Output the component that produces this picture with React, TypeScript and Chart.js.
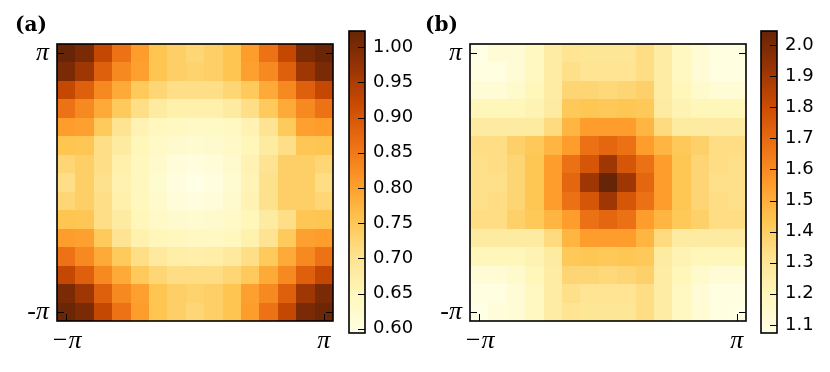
import React, { useEffect, useRef } from "react";
import { Chart, registerables } from "chart.js";

Chart.register(...registerables);

const PI = Math.PI;
const gridSize = 15;
const axisTickValues = [-PI, PI];
const xTickLabels = ["−π", "π"];
const yTickLabels = ["-π", "π"];
const panelLabels = ["(a)", "(b)"];

// Panel (a): rows from top (y = π) to bottom (y = −π), columns from x = −π to π
const gridA: number[][] = [
  [1.023, 1.002, 0.924, 0.86, 0.804, 0.753, 0.736, 0.723, 0.736, 0.753, 0.804, 0.86, 0.924, 1.002, 1.02],
  [1.002, 0.963, 0.886, 0.83, 0.8, 0.753, 0.736, 0.731, 0.736, 0.753, 0.8, 0.83, 0.886, 0.963, 1.002],
  [0.924, 0.886, 0.83, 0.787, 0.744, 0.723, 0.71, 0.71, 0.71, 0.723, 0.744, 0.787, 0.83, 0.886, 0.924],
  [0.86, 0.83, 0.787, 0.744, 0.71, 0.68, 0.667, 0.667, 0.667, 0.68, 0.71, 0.744, 0.787, 0.83, 0.86],
  [0.804, 0.8, 0.744, 0.7, 0.66, 0.645, 0.643, 0.636, 0.636, 0.643, 0.66, 0.7, 0.744, 0.8, 0.804],
  [0.753, 0.75, 0.71, 0.68, 0.65, 0.633, 0.625, 0.62, 0.625, 0.633, 0.65, 0.68, 0.71, 0.75, 0.753],
  [0.723, 0.736, 0.71, 0.667, 0.645, 0.627, 0.61, 0.607, 0.612, 0.625, 0.66, 0.7, 0.736, 0.736, 0.723],
  [0.71, 0.736, 0.705, 0.662, 0.645, 0.622, 0.605, 0.594, 0.605, 0.62, 0.655, 0.705, 0.736, 0.736, 0.712],
  [0.723, 0.736, 0.71, 0.667, 0.645, 0.627, 0.61, 0.605, 0.61, 0.625, 0.66, 0.705, 0.736, 0.736, 0.723],
  [0.753, 0.75, 0.71, 0.68, 0.65, 0.633, 0.625, 0.62, 0.625, 0.633, 0.65, 0.68, 0.71, 0.75, 0.753],
  [0.804, 0.8, 0.744, 0.7, 0.665, 0.65, 0.645, 0.64, 0.64, 0.645, 0.665, 0.7, 0.744, 0.8, 0.804],
  [0.86, 0.83, 0.787, 0.744, 0.71, 0.685, 0.672, 0.67, 0.672, 0.685, 0.71, 0.744, 0.787, 0.83, 0.86],
  [0.924, 0.886, 0.83, 0.787, 0.744, 0.723, 0.712, 0.712, 0.712, 0.723, 0.744, 0.787, 0.83, 0.886, 0.924],
  [1.002, 0.963, 0.886, 0.83, 0.8, 0.753, 0.736, 0.731, 0.736, 0.753, 0.8, 0.83, 0.886, 0.963, 1.002],
  [1.018, 1.002, 0.924, 0.86, 0.804, 0.753, 0.736, 0.723, 0.736, 0.753, 0.804, 0.86, 0.924, 1.002, 1.016],
];

// Panel (b)
const gridB: number[][] = [
  [1.075, 1.12, 1.12, 1.18, 1.26, 1.31, 1.3, 1.3, 1.3, 1.34, 1.26, 1.18, 1.13, 1.09, 1.09],
  [1.09, 1.09, 1.12, 1.18, 1.26, 1.33, 1.31, 1.31, 1.31, 1.34, 1.26, 1.18, 1.12, 1.09, 1.09],
  [1.12, 1.12, 1.15, 1.2, 1.26, 1.37, 1.37, 1.36, 1.37, 1.39, 1.26, 1.2, 1.15, 1.12, 1.12],
  [1.2, 1.2, 1.2, 1.22, 1.27, 1.42, 1.43, 1.42, 1.43, 1.42, 1.27, 1.22, 1.2, 1.2, 1.2],
  [1.27, 1.27, 1.27, 1.27, 1.35, 1.48, 1.55, 1.55, 1.55, 1.48, 1.35, 1.27, 1.27, 1.27, 1.27],
  [1.34, 1.34, 1.39, 1.42, 1.48, 1.55, 1.68, 1.71, 1.68, 1.55, 1.48, 1.42, 1.39, 1.34, 1.34],
  [1.33, 1.34, 1.37, 1.43, 1.55, 1.68, 1.77, 1.91, 1.77, 1.68, 1.55, 1.43, 1.37, 1.34, 1.33],
  [1.33, 1.33, 1.37, 1.43, 1.55, 1.71, 1.91, 2.045, 1.91, 1.71, 1.55, 1.43, 1.37, 1.33, 1.33],
  [1.33, 1.34, 1.37, 1.43, 1.55, 1.68, 1.77, 1.91, 1.77, 1.68, 1.55, 1.43, 1.37, 1.34, 1.33],
  [1.34, 1.34, 1.39, 1.42, 1.48, 1.55, 1.68, 1.71, 1.68, 1.55, 1.48, 1.42, 1.39, 1.34, 1.34],
  [1.27, 1.27, 1.27, 1.27, 1.35, 1.48, 1.55, 1.55, 1.55, 1.48, 1.35, 1.27, 1.27, 1.27, 1.27],
  [1.2, 1.2, 1.2, 1.22, 1.27, 1.42, 1.43, 1.42, 1.43, 1.42, 1.27, 1.22, 1.2, 1.2, 1.2],
  [1.12, 1.12, 1.15, 1.2, 1.26, 1.37, 1.37, 1.36, 1.37, 1.39, 1.26, 1.2, 1.15, 1.12, 1.12],
  [1.09, 1.09, 1.12, 1.18, 1.26, 1.33, 1.31, 1.31, 1.31, 1.34, 1.26, 1.18, 1.12, 1.09, 1.09],
  [1.074, 1.11, 1.12, 1.18, 1.26, 1.31, 1.3, 1.3, 1.3, 1.34, 1.26, 1.18, 1.13, 1.09, 1.08],
];

const colorbarTicksA = [0.6, 0.65, 0.7, 0.75, 0.8, 0.85, 0.9, 0.95, 1.0];
const colorbarTicksB = [1.1, 1.2, 1.3, 1.4, 1.5, 1.6, 1.7, 1.8, 1.9, 2.0];

// YlOrBr colormap anchors
const YLORBR = [
  [255, 255, 229],
  [255, 247, 188],
  [254, 227, 145],
  [254, 196, 79],
  [254, 153, 41],
  [236, 112, 20],
  [204, 76, 2],
  [153, 52, 4],
  [102, 37, 6],
];

function cmap(t: number): string {
  const tt = Math.max(0, Math.min(1, t)) * (YLORBR.length - 1);
  const i = Math.min(YLORBR.length - 2, Math.floor(tt));
  const f = tt - i;
  const a = YLORBR[i];
  const b = YLORBR[i + 1];
  const c = a.map((v, k) => Math.round(v + (b[k] - v) * f));
  return `rgb(${c[0]},${c[1]},${c[2]})`;
}

function range(grid: number[][]) {
  const flat = grid.flat();
  return { vmin: Math.min(...flat), vmax: Math.max(...flat) };
}

const piFont = { family: "'Liberation Serif', serif", size: 26, style: "italic" as const };
const cbFont = { family: "'DejaVu Sans', sans-serif", size: 18 };

function Heatmap({ grid, left }: { grid: number[][]; left: number }) {
  const ref = useRef<HTMLCanvasElement>(null);
  useEffect(() => {
    const step = (2 * PI) / (gridSize - 1);
    const { vmin, vmax } = range(grid);
    const data: { x: number; y: number; v: number }[] = [];
    grid.forEach((row, r) =>
      row.forEach((v, c) => data.push({ x: -PI + c * step, y: PI - r * step, v }))
    );
    const heatPlugin = {
      id: "heat",
      beforeDatasetsDraw(chart: any) {
        const { ctx, scales } = chart;
        const xs = scales.x;
        const ys = scales.y;
        const pts = chart.data.datasets[0].data;
        ctx.save();
        for (const p of pts) {
          const x0 = Math.round(xs.getPixelForValue(p.x - step / 2));
          const x1 = Math.round(xs.getPixelForValue(p.x + step / 2));
          const y0 = Math.round(ys.getPixelForValue(p.y + step / 2));
          const y1 = Math.round(ys.getPixelForValue(p.y - step / 2));
          ctx.fillStyle = cmap((p.v - vmin) / (vmax - vmin));
          ctx.fillRect(x0, y0, x1 - x0, y1 - y0);
        }
        ctx.restore();
      },
      afterDraw(chart: any) {
        const { ctx, chartArea: a, scales } = chart;
        ctx.save();
        ctx.strokeStyle = "#000";
        ctx.lineWidth = 1.6;
        ctx.strokeRect(a.left, a.top, a.right - a.left, a.bottom - a.top);
        ctx.lineWidth = 1;
        const L = 7;
        ctx.beginPath();
        for (const t of axisTickValues) {
          const py = Math.round(scales.y.getPixelForValue(t)) + 0.5;
          ctx.moveTo(a.left, py);
          ctx.lineTo(a.left + L, py);
          ctx.moveTo(a.right, py);
          ctx.lineTo(a.right - L, py);
          const px = Math.round(scales.x.getPixelForValue(t)) + 0.5;
          ctx.moveTo(px, a.bottom);
          ctx.lineTo(px, a.bottom - L);
        }
        ctx.stroke();
        ctx.restore();
      },
    };
    const chart = new Chart(ref.current as HTMLCanvasElement, {
      type: "scatter",
      data: { datasets: [{ data, pointRadius: 0, pointHoverRadius: 0 }] as any },
      options: {
        animation: false,
        responsive: false,
        events: [],
        layout: { padding: { top: 44, right: 12, left: 0, bottom: 0 } },
        plugins: { legend: { display: false }, tooltip: { enabled: false } },
        scales: {
          x: {
            type: "linear",
            min: -PI - step / 2,
            max: PI + step / 2,
            grid: { display: false, drawTicks: false },
            border: { display: false },
            afterBuildTicks: (s: any) => {
              s.ticks = axisTickValues.map((value) => ({ value }));
            },
            afterFit: (s: any) => {
              s.height = 51;
            },
            ticks: {
              callback: (_v: any, i: number) => xTickLabels[i],
              font: piFont,
              color: "#000",
              padding: 5,
              maxRotation: 0,
              autoSkip: false,
            },
          },
          y: {
            type: "linear",
            min: -PI - step / 2,
            max: PI + step / 2,
            grid: { display: false, drawTicks: false },
            border: { display: false },
            afterBuildTicks: (s: any) => {
              s.ticks = axisTickValues.map((value) => ({ value }));
            },
            afterFit: (s: any) => {
              s.width = 57;
            },
            ticks: {
              callback: (_v: any, i: number) => yTickLabels[i],
              font: piFont,
              color: "#000",
              padding: 8,
              autoSkip: false,
            },
          },
        },
      } as any,
      plugins: [heatPlugin],
    });
    return () => chart.destroy();
  }, [grid]);
  return (
    <canvas
      ref={ref}
      width={345}
      height={372}
      style={{ position: "absolute", left, top: 0, width: 345, height: 372 }}
    />
  );
}

function Colorbar({
  grid,
  ticks,
  decimals,
  left,
}: {
  grid: number[][];
  ticks: number[];
  decimals: number;
  left: number;
}) {
  const ref = useRef<HTMLCanvasElement>(null);
  useEffect(() => {
    const { vmin, vmax } = range(grid);
    const cbPlugin = {
      id: "cb",
      beforeDatasetsDraw(chart: any) {
        const { ctx, chartArea: a, scales } = chart;
        ctx.save();
        for (let py = Math.floor(a.top); py < Math.ceil(a.bottom); py++) {
          const v = scales.y.getValueForPixel(py + 0.5);
          ctx.fillStyle = cmap((v - vmin) / (vmax - vmin));
          ctx.fillRect(a.left, py, a.right - a.left, 1);
        }
        ctx.restore();
      },
      afterDraw(chart: any) {
        const { ctx, chartArea: a, scales } = chart;
        ctx.save();
        ctx.strokeStyle = "#000";
        ctx.lineWidth = 1.6;
        ctx.strokeRect(a.left, a.top, a.right - a.left, a.bottom - a.top);
        ctx.lineWidth = 1;
        ctx.beginPath();
        for (const t of ticks) {
          const py = Math.round(scales.y.getPixelForValue(t)) + 0.5;
          ctx.moveTo(a.right, py);
          ctx.lineTo(a.right - 7, py);
        }
        ctx.stroke();
        ctx.restore();
      },
    };
    const chart = new Chart(ref.current as HTMLCanvasElement, {
      type: "scatter",
      data: { datasets: [{ data: [], pointRadius: 0 }] as any },
      options: {
        animation: false,
        responsive: false,
        events: [],
        layout: { padding: { top: 31, right: 0, left: 9, bottom: 39 } },
        plugins: { legend: { display: false }, tooltip: { enabled: false } },
        scales: {
          x: { type: "linear", display: false, min: 0, max: 1 },
          y: {
            type: "linear",
            position: "right",
            min: vmin,
            max: vmax,
            grid: { display: false, drawTicks: false },
            border: { display: false },
            afterBuildTicks: (s: any) => {
              s.ticks = ticks.map((value) => ({ value }));
            },
            afterFit: (s: any) => {
              s.width = 50;
            },
            ticks: {
              callback: (v: any) => Number(v).toFixed(decimals),
              font: cbFont,
              color: "#000",
              padding: 8,
              autoSkip: false,
            },
          },
        },
      } as any,
      plugins: [cbPlugin],
    });
    return () => chart.destroy();
  }, [grid]);
  return (
    <canvas
      ref={ref}
      width={75}
      height={372}
      style={{ position: "absolute", left, top: 0, width: 75, height: 372 }}
    />
  );
}

const labelStyle = (left: number): React.CSSProperties => ({
  position: "absolute",
  left,
  top: 12,
  font: "bold 20px 'DejaVu Serif', serif",
  lineHeight: "24px",
  color: "#000",
  whiteSpace: "nowrap",
});

export default function App() {
  return (
    <div
      style={{
        position: "absolute",
        left: 0,
        top: 0,
        width: 830,
        height: 372,
        background: "#fff",
        overflow: "hidden",
      }}
    >
      <Heatmap grid={gridA} left={0} />
      <Colorbar grid={gridA} ticks={colorbarTicksA} decimals={2} left={340} />
      <Heatmap grid={gridB} left={413} />
      <Colorbar grid={gridB} ticks={colorbarTicksB} decimals={1} left={752} />
      <div style={labelStyle(15)}>{panelLabels[0]}</div>
      <div style={labelStyle(425)}>{panelLabels[1]}</div>
    </div>
  );
}
